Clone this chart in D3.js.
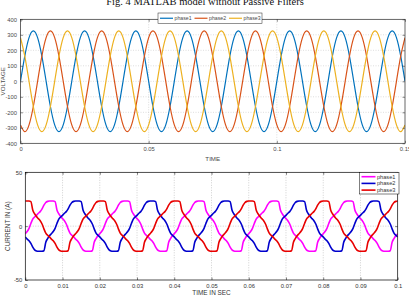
<!DOCTYPE html>
<html>
<head>
<meta charset="utf-8">
<script src="https://cdn.jsdelivr.net/npm/d3@7"></script>
<style>
  body { margin: 0; background: #fff; }
  svg { display: block; }
</style>
</head>
<body>
<div id="chart"></div>
<script>
// ---- data ----
const titleText = "Fig. 4 MATLAB model without Passive Filters";

// voltage: one 50 Hz cycle sampled every 30 deg (1/600 s), repeated over 0.15 s
const voltStep = 1 / 600;
const voltCycles = 7.5;
const voltPhase1 = [0, 162.5, 281.5, 325, 281.5, 162.5, 0, -162.5, -281.5, -325, -281.5, -162.5];
const voltPhase2 = [-281.5, -325, -281.5, -162.5, 0, 162.5, 281.5, 325, 281.5, 162.5, 0, -162.5];
const voltPhase3 = [281.5, 162.5, 0, -162.5, -281.5, -325, -281.5, -162.5, 0, 162.5, 281.5, 325];
const voltNames = ["phase1", "phase2", "phase3"];
const voltColors = ["#0072BD", "#D95319", "#EDB120"];
const voltTicksX = [0, 0.05, 0.1, 0.15];
const voltTicksY = [-400, -300, -200, -100, 0, 100, 200, 300, 400];

// current: one cycle sampled every 0.5 ms, repeated over 0.1 s
const currStep = 0.0005;
const currCycles = 5;
const currPhase1 = [-7, -5, -2, 2.5, 6.5, 8.5, 10, 12, 13.5, 16, 19.5, 22, 23, 23.3, 23.3, 23.3, 22.8, 15, 11.5, 9,
                    7, 5, 2, -2.5, -6.5, -8.5, -10, -12, -13.5, -16, -19.5, -22, -23, -23.3, -23.3, -23.3, -22.8, -15, -11.5, -9];
const currPhase2 = [-10, -12, -13.5, -16, -19.5, -22, -23, -23.3, -23.3, -23.3, -22.8, -15, -11.5, -9, -7, -5, -2, 2.5, 6.5, 8.5,
                    10, 12, 13.5, 16, 19.5, 22, 23, 23.3, 23.3, 23.3, 22.8, 15, 11.5, 9, 7, 5, 2, -2.5, -6.5, -8.5];
const currPhase3 = [23.3, 23.3, 23.3, 22.8, 15, 11.5, 9, 7, 5, 2, -2.5, -6.5, -8.5, -10, -12, -13.5, -16, -19.5, -22, -23,
                    -23.3, -23.3, -23.3, -22.8, -15, -11.5, -9, -7, -5, -2, 2.5, 6.5, 8.5, 10, 12, 13.5, 16, 19.5, 22, 23];
const currNames = ["phase1", "phase2", "phase3"];
const currColors = ["#FF00FF", "#0000CC", "#E80000"];
const currTicksX = [0, 0.01, 0.02, 0.03, 0.04, 0.05, 0.06, 0.07, 0.08, 0.09, 0.1];
const currTicksY = [-50, 0, 50];

// repeat a sampled cycle to build [t, value] points
function tile(cycle, step, nCycles) {
  const pts = [];
  const n = Math.round(cycle.length * nCycles);
  for (let i = 0; i <= n; i++) pts.push([i * step, cycle[i % cycle.length]]);
  return pts;
}

const width = 409, height = 296;

const svg = d3.select("#chart").append("svg")
  .attr("width", width)
  .attr("height", height)
  .attr("viewBox", [0, 0, width, height]);

svg.append("text")
  .attr("x", 205).attr("y", 5)
  .attr("text-anchor", "middle")
  .attr("font-family", "Liberation Serif, Times New Roman, serif")
  .attr("font-size", 10.5)
  .attr("fill", "#111")
  .text(titleText);

function fmt(d) { return String(d); }

function drawPanel(opt) {
  const { left, right, top, bottom } = opt.box;
  const x = d3.scaleLinear().domain(opt.xDomain).range([left, right]);
  const y = d3.scaleLinear().domain(opt.yDomain).range([bottom, top]);
  const g = svg.append("g");
  const font = "Liberation Sans, Arial, sans-serif";

  // grid
  g.append("g").selectAll("line")
    .data(opt.gridX)
    .join("line")
    .attr("x1", d => x(d)).attr("x2", d => x(d))
    .attr("y1", top).attr("y2", bottom)
    .attr("stroke", opt.gridColor).attr("stroke-width", 0.6)
    .attr("stroke-dasharray", "1,1.5");
  g.append("g").selectAll("line")
    .data(opt.gridY)
    .join("line")
    .attr("x1", left).attr("x2", right)
    .attr("y1", d => y(d)).attr("y2", d => y(d))
    .attr("stroke", opt.gridColor).attr("stroke-width", 0.6)
    .attr("stroke-dasharray", "1,1.5");

  // lines
  const clipId = "clip" + opt.id;
  svg.append("clipPath").attr("id", clipId)
    .append("rect").attr("x", left).attr("y", top)
    .attr("width", right - left).attr("height", bottom - top);

  const line = d3.line()
    .x(d => x(d[0]))
    .y(d => y(d[1]))
    .curve(opt.curve);

  g.append("g").attr("clip-path", `url(#${clipId})`)
    .selectAll("path")
    .data(opt.series)
    .join("path")
    .attr("d", d => line(d.points))
    .attr("fill", "none")
    .attr("stroke", d => d.color)
    .attr("stroke-width", opt.lineWidth)
    .attr("stroke-linejoin", "round");

  // axes (inward ticks on all four sides)
  const tk = 2.5;
  const axisStyle = a => a
    .call(s => s.select(".domain").remove())
    .call(s => s.selectAll(".tick line").attr("stroke", opt.axisColor).attr("stroke-width", 0.5))
    .call(s => s.selectAll(".tick text")
      .attr("font-family", font).attr("font-size", opt.tickFont).attr("fill", opt.textColor));

  g.append("g").attr("transform", `translate(0,${bottom})`)
    .call(d3.axisBottom(x).tickValues(opt.ticksX).tickFormat(fmt).tickSize(-tk).tickPadding(opt.xPad))
    .call(axisStyle);
  g.append("g").attr("transform", `translate(0,${top})`)
    .call(d3.axisTop(x).tickValues(opt.ticksX).tickFormat("").tickSize(-tk))
    .call(axisStyle);
  g.append("g").attr("transform", `translate(${left},0)`)
    .call(d3.axisLeft(y).tickValues(opt.ticksY).tickFormat(fmt).tickSize(-tk).tickPadding(opt.yPad))
    .call(axisStyle);
  g.append("g").attr("transform", `translate(${right},0)`)
    .call(d3.axisRight(y).tickValues(opt.ticksY).tickFormat("").tickSize(-tk))
    .call(axisStyle);

  g.append("rect")
    .attr("x", left).attr("y", top)
    .attr("width", right - left).attr("height", bottom - top)
    .attr("fill", "none")
    .attr("stroke", opt.axisColor).attr("stroke-width", 0.7);

  // axis titles
  g.append("text")
    .attr("x", (left + right) / 2 + opt.xLabelDx).attr("y", opt.xLabelY)
    .attr("text-anchor", "middle")
    .attr("font-family", font).attr("font-size", opt.labelFont).attr("fill", opt.textColor)
    .text(opt.xLabel);
  g.append("text")
    .attr("transform", `translate(${opt.yLabelX},${(top + bottom) / 2}) rotate(-90)`)
    .attr("text-anchor", "middle")
    .attr("font-family", font).attr("font-size", opt.labelFont).attr("fill", opt.textColor)
    .text(opt.yLabel);

  // legend
  const L = opt.legend;
  const lg = g.append("g");
  lg.append("rect")
    .attr("x", L.x).attr("y", L.y).attr("width", L.w).attr("height", L.h)
    .attr("fill", "#fff").attr("stroke", opt.axisColor).attr("stroke-width", 0.5);
  opt.series.forEach((s, i) => {
    const ex = L.x + L.dx * i + 2, ey = L.y + L.rowY + L.dy * i;
    lg.append("line")
      .attr("x1", ex).attr("x2", ex + L.len)
      .attr("y1", ey).attr("y2", ey)
      .attr("stroke", s.color).attr("stroke-width", opt.lineWidth);
    lg.append("text")
      .attr("x", ex + L.len + 1.5).attr("y", ey + L.font * 0.36)
      .attr("font-family", font).attr("font-size", L.font).attr("fill", opt.textColor)
      .text(s.name);
  });
}

// top: three phase voltage
drawPanel({
  id: "volt",
  box: { left: 20.5, right: 405, top: 19.3, bottom: 143.3 },
  xDomain: [0, 0.15], yDomain: [-400, 400],
  ticksX: voltTicksX, ticksY: voltTicksY,
  gridX: voltTicksX.slice(1, -1), gridY: voltTicksY.slice(1, -1),
  gridColor: "#c8c8c8", axisColor: "#262626", textColor: "#4a4a4a",
  tickFont: 5.8, labelFont: 6.2, xPad: 3.5, yPad: 3.5,
  xLabel: "TIME", xLabelY: 160.5, xLabelDx: 0,
  yLabel: "VOLTAGE", yLabelX: 4.5,
  curve: d3.curveNatural, lineWidth: 1.2,
  series: [voltPhase1, voltPhase2, voltPhase3].map((c, i) => ({
    name: voltNames[i], color: voltColors[i], points: tile(c, voltStep, voltCycles)
  })),
  legend: { x: 158, y: 13, w: 104, h: 10.5, dx: 34.5, dy: 0, rowY: 5.25, len: 13, font: 5.2 }
});

// bottom: three phase current
drawPanel({
  id: "curr",
  box: { left: 25.3, right: 397.7, top: 172.3, bottom: 280 },
  xDomain: [0, 0.1], yDomain: [-50, 50],
  ticksX: currTicksX, ticksY: currTicksY,
  gridX: currTicksX.slice(1, -1), gridY: [0],
  gridColor: "#b0b0b0", axisColor: "#000", textColor: "#333",
  tickFont: 5.8, labelFont: 6.4, xPad: 3.5, yPad: 3,
  xLabel: "TIME IN SEC", xLabelY: 295, xLabelDx: 0,
  yLabel: "CURRENT IN (A)", yLabelX: 9.5,
  curve: d3.curveMonotoneX, lineWidth: 1.6,
  series: [currPhase1, currPhase2, currPhase3].map((c, i) => ({
    name: currNames[i], color: currColors[i], points: tile(c, currStep, currCycles)
  })),
  legend: { x: 359.5, y: 172.5, w: 39.5, h: 21.5, dx: 0, dy: 6.7, rowY: 4.2, len: 14, font: 5.6 }
});
</script>
</body>
</html>
